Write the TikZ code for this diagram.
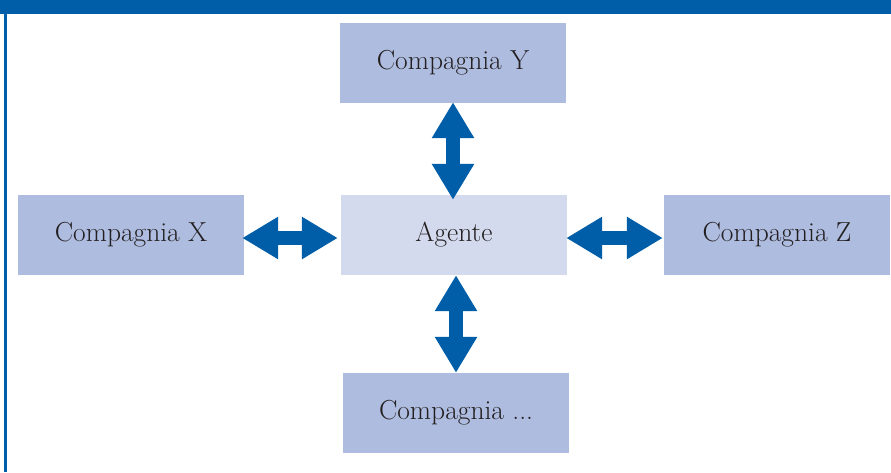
\documentclass[tikz,border=0pt]{standalone}
\usepackage{tikz}
\usetikzlibrary{arrows.meta, positioning}
\usepackage{xcolor}
\definecolor{frameblue}{RGB}{0, 93, 168}
\definecolor{boxblue}{RGB}{174, 188, 224}
\definecolor{agentblue}{RGB}{212, 218, 238}
\definecolor{textgrey}{RGB}{35, 31, 32}

\begin{document}
\begin{tikzpicture}[x=1pt, y=-1pt,
    company/.style={rectangle, fill=boxblue, minimum width=226pt, minimum height=80pt, inner sep=0pt,
        text=textgrey, font=\fontsize{27.5}{33}\selectfont},
    agent/.style={company, fill=agentblue},
    link/.style={draw=frameblue, line width=14pt,
        {Triangle[length=36pt, width=40pt]}-{Triangle[length=36pt, width=40pt]}}]
    \useasboundingbox (0,0) rectangle (891,472);
    \fill[frameblue] (0,0) rectangle (891,14);
    \fill[frameblue] (4,14) rectangle (6.5,472);
    \node[agent] (agente) at (454,235) {Agente};
    \node[company] (compY) at (453,63) {Compagnia Y};
    \node[company] (compX) at (131,235) {Compagnia X};
    \node[company] (compZ) at (777,235) {Compagnia Z};
    \node[company] (compN) at (456,413) {Compagnia ...};
    \draw[link] ([yshift=1pt]compY.south) -- ([yshift=-5pt]compY.south |- agente.north);
    \draw[link] ([shift={(-2pt,-3pt)}]compX.east) -- ([shift={(-3pt,-3pt)}]agente.west);
    \draw[link] ([shift={(-1pt,-3pt)}]agente.east) -- ([shift={(-1pt,-3pt)}]compZ.west);
    \draw[link] (compN.north |- agente.south) -- (compN.north);
\end{tikzpicture}
\end{document}
